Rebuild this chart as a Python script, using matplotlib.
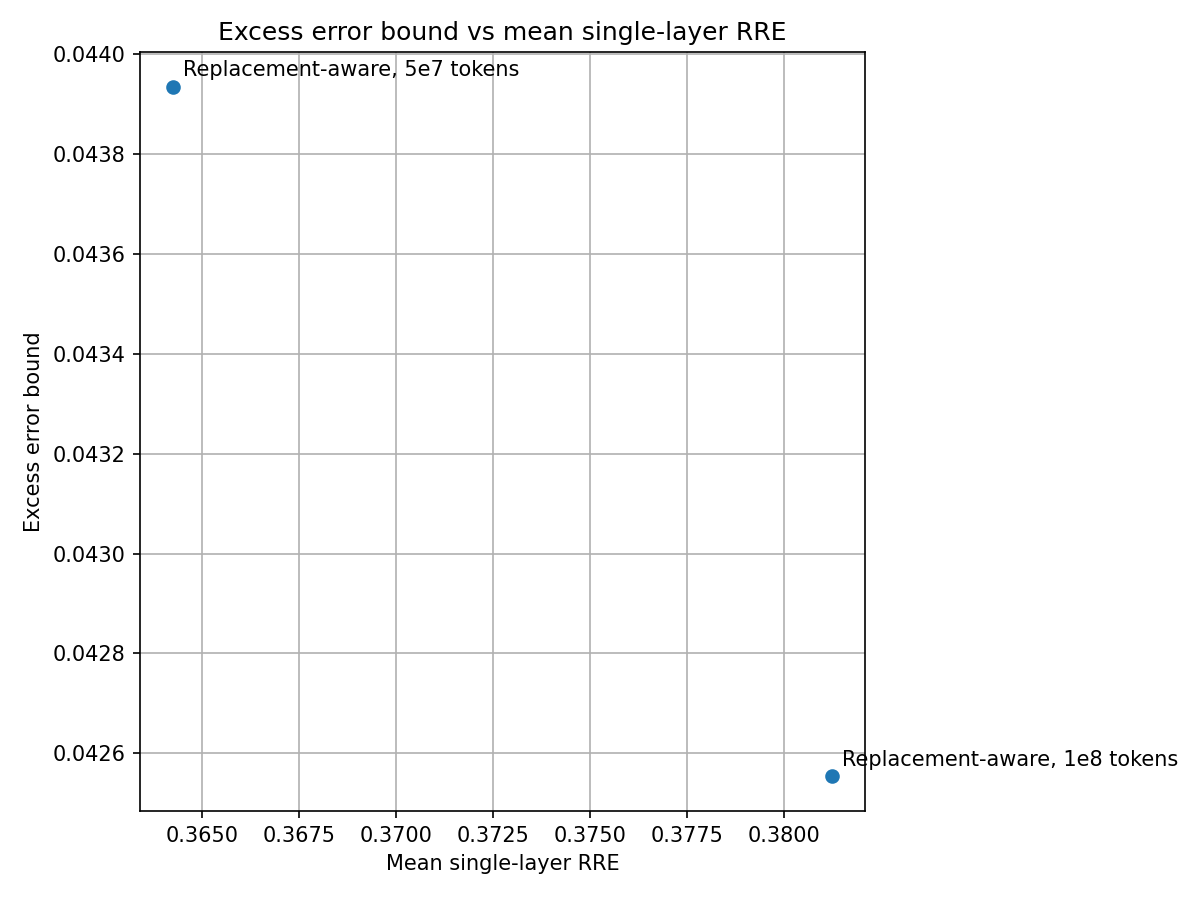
import matplotlib
matplotlib.use('Agg')
import matplotlib.pyplot as plt

# Datos
labels = ['Replacement-aware, 5e7 tokens', 'Replacement-aware, 1e8 tokens']
mean_rre = [0.36426, 0.38123]
excess_bound = [0.043934, 0.042554]

fig, ax = plt.subplots(figsize=(8, 6), dpi=150)
ax.scatter(mean_rre, excess_bound)

# Etiquetas junto a cada punto
for x, y, lab in zip(mean_rre, excess_bound, labels):
    ax.annotate(lab, (x, y), textcoords='offset points', xytext=(5, 5))

ax.set_title('Excess error bound vs mean single-layer RRE')
ax.set_xlabel('Mean single-layer RRE')
ax.set_ylabel('Excess error bound')
ax.grid(True)

# Márgenes ajustados a mano para igualar la referencia
plt.subplots_adjust(left=0.1167, right=0.7208, top=0.9422, bottom=0.0989)
plt.savefig('out.png')
